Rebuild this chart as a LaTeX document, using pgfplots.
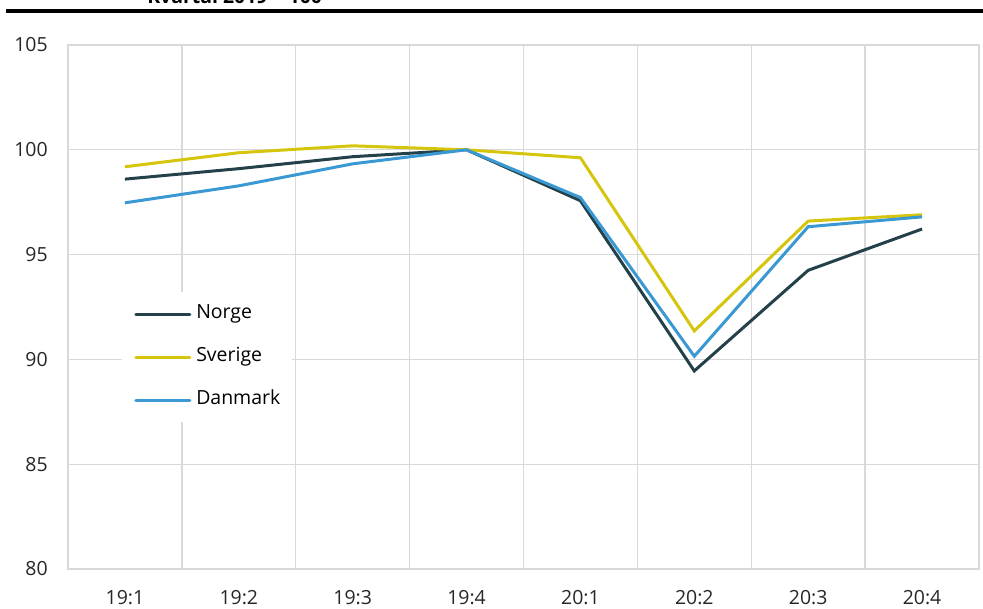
\documentclass[border=0pt]{standalone}
\usepackage{fontspec}
\setmainfont{Open Sans}
\usepackage{pgfplots}
\pgfplotsset{compat=1.18}

\definecolor{norge}{HTML}{24414A}
\definecolor{sverige}{HTML}{D6C50D}
\definecolor{danmark}{HTML}{3A99D3}
\definecolor{gridgray}{HTML}{D9D9D9}

\begin{document}
\fontsize{14.6}{17}\selectfont
\begin{tikzpicture}
\useasboundingbox (-51pt,-30pt) rectangle (686.25pt,426.75pt);
\begin{axis}[
    at={(0,0)}, anchor=south west,
    scale only axis,
    width=683.25pt, height=393pt,
    xmin=-0.5, xmax=7.5,
    ymin=80, ymax=105,
    ytick={80,85,...,105},
    xtick={0,...,7},
    xticklabels={19:1,19:2,19:3,19:4,20:1,20:2,20:3,20:4},
    minor xtick={-0.5,0.5,...,7.5},
    xmajorgrids=false,
    xminorgrids=true,
    ymajorgrids=true,
    grid style={gridgray, line width=1pt},
    minor grid style={gridgray, line width=1pt},
    axis line style={gridgray, line width=1pt},
    major tick length=0pt, minor tick length=0pt,
    tick style={draw=none},
    /pgf/number format/assume math mode=true,
    ticklabel style={font=\fontsize{14.6}{17}\selectfont, text=black!85},
    yticklabel style={anchor=east, inner sep=0pt, xshift=-15pt},
    xticklabel style={anchor=center, inner sep=0pt, yshift=-21.75pt},
    legend cell align=left,
    legend style={
        at={(rel axis cs:0.0593,0.5286)}, anchor=north west,
        draw=none, fill=white, inner sep=9pt,
        row sep=17.25pt, column sep=3.75pt,
        font=\fontsize{14.6}{17}\selectfont,
        nodes={inner sep=0pt, text height=11pt, text depth=4pt},
    },
    legend image code/.code={
        \draw[#1, line width=2.25pt, line cap=round] (0pt,0pt) -- (40.5pt,0pt);
    },
]
\addplot[norge, line width=2.25pt] coordinates {
    (0,98.6) (1,99.1) (2,99.67) (3,100) (4,97.57) (5,89.45) (6,94.25) (7,96.22)
};
\addlegendentry{Norge}
\addplot[sverige, line width=2.25pt] coordinates {
    (0,99.19) (1,99.86) (2,100.19) (3,100) (4,99.62) (5,91.36) (6,96.6) (7,96.9)
};
\addlegendentry{Sverige}
\addplot[danmark, line width=2.25pt] coordinates {
    (0,97.47) (1,98.28) (2,99.33) (3,100) (4,97.72) (5,90.15) (6,96.33) (7,96.8)
};
\addlegendentry{Danmark}
\end{axis}
\draw[black, line width=2.5pt] (-46.5pt,418.5pt) -- (690pt,418.5pt);
\node[anchor=base west, inner sep=0pt, font=\bfseries\fontsize{14.6}{17}\selectfont] at (59.25pt,423.75pt) {Kvartal 2019 = 100};
\end{tikzpicture}
\end{document}
